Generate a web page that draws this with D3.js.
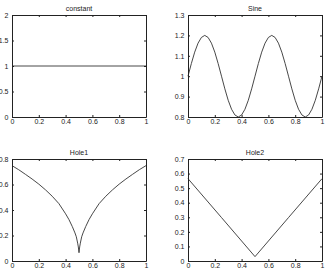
<!DOCTYPE html>
<html><head><meta charset="utf-8">
<script src="https://cdn.jsdelivr.net/npm/d3@7"></script>
<style>
html,body{margin:0;padding:0;background:#fff;}
svg{display:block;}
text{font-family:"Liberation Sans",Arial,sans-serif;font-size:7px;fill:#222;}
</style></head>
<body>
<svg id="c" width="327" height="269"></svg>
<script>
// ---- data ----
const xTicks = [0, 0.2, 0.4, 0.6, 0.8, 1];

const constantX = [0, 1];
const constantY = [1, 1];
const constantTicks = [0, 0.5, 1, 1.5, 2];

const sineX = [0,0.025,0.05,0.075,0.1,0.125,0.15,0.175,0.2,0.225,0.25,0.275,0.3,0.325,0.35,0.375,0.4,0.425,0.45,0.475,0.5,
               0.525,0.55,0.575,0.6,0.625,0.65,0.675,0.7,0.725,0.75,0.775,0.8,0.825,0.85,0.875,0.9,0.925,0.95,0.975,1];
const sineY = [1,1.062,1.118,1.162,1.19,1.2,1.19,1.162,1.118,1.062,1,0.938,0.882,0.838,0.81,0.8,0.81,0.838,0.882,0.938,1,
               1.062,1.118,1.162,1.19,1.2,1.19,1.162,1.118,1.062,1,0.938,0.882,0.838,0.81,0.8,0.81,0.838,0.882,0.938,1];
const sineTicks = [0.8, 0.9, 1, 1.1, 1.2, 1.3];

const hole1X = [0,0.05,0.1,0.15,0.2,0.25,0.3,0.35,0.4,0.425,0.45,0.47,0.48,0.49,0.495,0.5,
                0.505,0.51,0.52,0.53,0.55,0.575,0.6,0.65,0.7,0.75,0.8,0.85,0.9,0.95,1];
const hole1Y = [0.748,0.716,0.68,0.643,0.603,0.558,0.508,0.45,0.37,0.325,0.27,0.22,0.19,0.14,0.11,0.065,
                0.11,0.14,0.19,0.22,0.27,0.325,0.37,0.45,0.508,0.558,0.603,0.643,0.68,0.716,0.748];
const hole1Ticks = [0, 0.2, 0.4, 0.6, 0.8];

const hole2X = [0, 0.25, 0.5, 0.75, 1];
const hole2Y = [0.565, 0.298, 0.03, 0.298, 0.565];
const hole2Ticks = [0, 0.1, 0.2, 0.3, 0.4, 0.5, 0.6, 0.7];

const panels = [
  {title:"constant", xs:constantX, ys:constantY, yDomain:[0,2],   yTicks:constantTicks, box:[12,15,146,117]},
  {title:"Sine",     xs:sineX,     ys:sineY,     yDomain:[0.8,1.3],yTicks:sineTicks,    box:[188,15,322,117]},
  {title:"Hole1",    xs:hole1X,    ys:hole1Y,    yDomain:[0,0.8], yTicks:hole1Ticks,    box:[12,159,146,261]},
  {title:"Hole2",    xs:hole2X,    ys:hole2Y,    yDomain:[0,0.7], yTicks:hole2Ticks,    box:[188,159,322,261]}
];

const svg = d3.select("#c");
const fmt = d => String(+d.toFixed(2));

panels.forEach(p => {
  const [x0,y0,x1,y1] = p.box;
  const x = d3.scaleLinear().domain([0,1]).range([x0,x1]);
  const y = d3.scaleLinear().domain(p.yDomain).range([y1,y0]);
  const g = svg.append("g");

  // data line
  g.append("path")
    .datum(p.xs.map((v,i)=>[v,p.ys[i]]))
    .attr("fill","none").attr("stroke","#333").attr("stroke-width",0.9)
    .attr("d", d3.line().x(d=>x(d[0])).y(d=>y(d[1])));

  // axes (MATLAB style: inward ticks on all four sides)
  const tl = -2;
  const axB = d3.axisBottom(x).tickValues(xTicks).tickSizeInner(tl).tickSizeOuter(0).tickPadding(2.5).tickFormat(fmt);
  const axT = d3.axisTop(x).tickValues(xTicks).tickSizeInner(tl).tickSizeOuter(0).tickFormat("");
  const axL = d3.axisLeft(y).tickValues(p.yTicks).tickSizeInner(tl).tickSizeOuter(0).tickPadding(3.5).tickFormat(fmt);
  const axR = d3.axisRight(y).tickValues(p.yTicks).tickSizeInner(tl).tickSizeOuter(0).tickFormat("");

  const styleAx = sel => {
    sel.select(".domain").attr("stroke","#222");
    sel.selectAll(".tick line").attr("stroke","#222");
    sel.selectAll("text").attr("fill","#222").style("font-size","7px")
       .style("font-family","'Liberation Sans',Arial,sans-serif");
  };
  g.append("g").attr("transform",`translate(0,${y1})`).call(axB).call(styleAx);
  g.append("g").attr("transform",`translate(0,${y0})`).call(axT).call(styleAx);
  g.append("g").attr("transform",`translate(${x0},0)`).call(axL).call(styleAx);
  g.append("g").attr("transform",`translate(${x1},0)`).call(axR).call(styleAx);

  g.append("text").attr("x",(x0+x1)/2).attr("y",y0-4).attr("text-anchor","middle").text(p.title);
});
</script>
</body></html>
